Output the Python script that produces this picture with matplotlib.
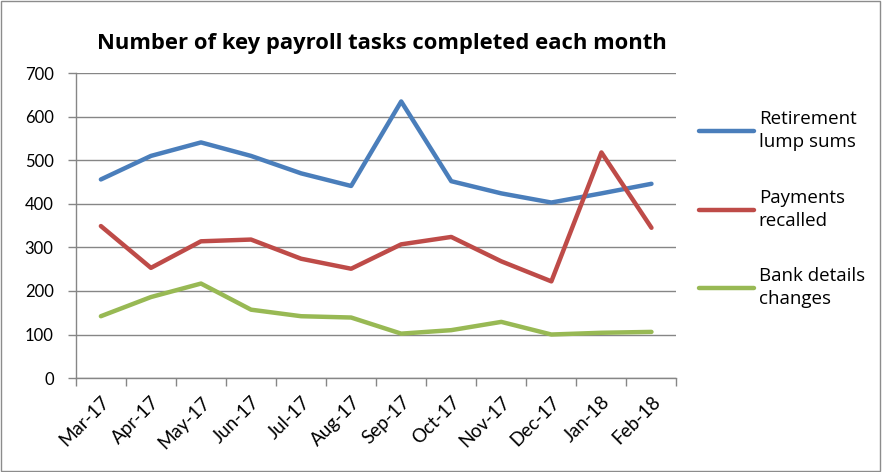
import numpy as np
import matplotlib.pyplot as plt
from matplotlib.patches import Rectangle

plt.rcParams['font.family'] = ['Lato', 'DejaVu Sans']

months = ['Mar-17', 'Apr-17', 'May-17', 'Jun-17', 'Jul-17', 'Aug-17',
          'Sep-17', 'Oct-17', 'Nov-17', 'Dec-17', 'Jan-18', 'Feb-18']
retirement = [456, 510, 541, 510, 470, 441, 635, 452, 424, 403, 424, 446]
recalled = [349, 253, 314, 318, 274, 251, 307, 324, 268, 222, 518, 345]
bank = [142, 186, 217, 157, 142, 139, 102, 110, 129, 100, 104, 106]

fig = plt.figure(figsize=(8.82, 4.72), dpi=100)
ax = fig.add_axes([0.086, 0.199, 0.681, 0.646])

# chart frame
fig.patches.append(Rectangle((0.001, 0.002), 0.997, 0.995, transform=fig.transFigure,
                             fill=False, edgecolor='#8c8c8c', linewidth=1))

x = np.arange(len(months))
ax.plot(x, retirement, color='#4a7ebb', linewidth=3.2, solid_capstyle='round',
        label='Retirement\nlump sums')
ax.plot(x, recalled, color='#be4b48', linewidth=3.2, solid_capstyle='round',
        label='Payments\nrecalled')
ax.plot(x, bank, color='#98b954', linewidth=3.2, solid_capstyle='round',
        label='Bank details\nchanges')

ax.set_xlim(-0.5, len(months) - 0.5)
ax.set_ylim(0, 700)
ax.set_yticks(range(0, 701, 100))
ax.yaxis.grid(True, color='#868686', linewidth=1)
ax.set_axisbelow(True)

ax.set_xticks(x)
ax.set_xticklabels(months, rotation=45, ha='right', rotation_mode='anchor')
ax.set_xticks(np.arange(-0.5, len(months), 1), minor=True)
ax.tick_params(axis='x', which='major', length=0, pad=11, labelsize=13.5)
ax.tick_params(axis='x', which='minor', length=6, color='#868686', width=1)
ax.tick_params(axis='y', length=6, color='#868686', width=1, labelsize=12, pad=10)

for s in ['top', 'right']:
    ax.spines[s].set_visible(False)
for s in ['left', 'bottom']:
    ax.spines[s].set_color('#868686')
    ax.spines[s].set_linewidth(1)

fig.text(0.433, 0.907, 'Number of key payroll tasks completed each month',
         ha='center', va='center', fontsize=15.8, fontweight='bold',
         family=['Open Sans', 'DejaVu Sans'])

leg = ax.legend(loc='center left', bbox_to_anchor=(1.01, 0.554), frameon=False,
                prop={'family': ['Open Sans', 'DejaVu Sans'], 'size': 13.5},
                handlelength=2.9, handletextpad=0.27, labelspacing=2.0)
for t in leg.get_texts():
    t.set_linespacing(1.35)

fig.savefig('out.png', dpi=100)
